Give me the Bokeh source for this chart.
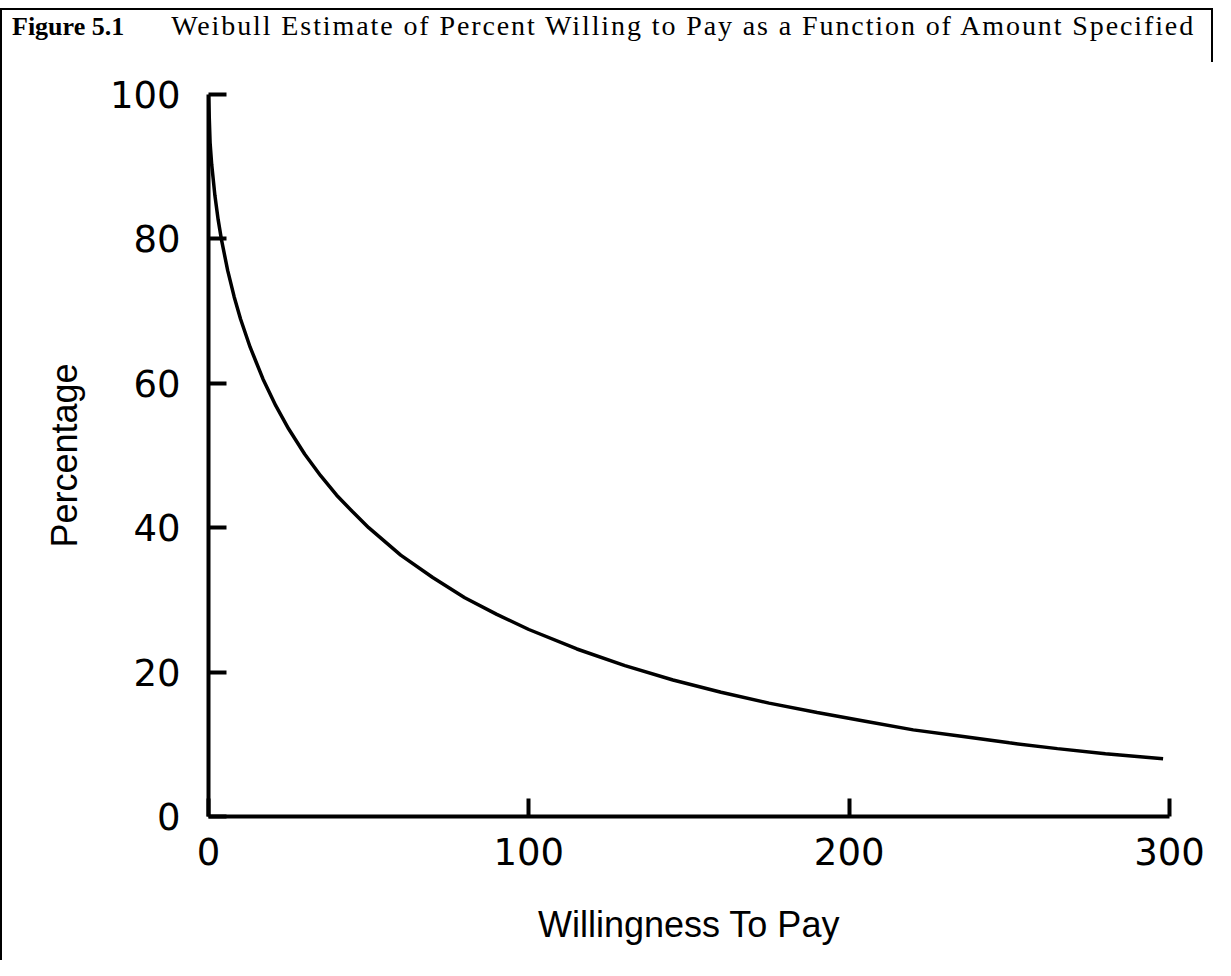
from bokeh.plotting import figure
from bokeh.layouts import column
from bokeh.models import Range1d, FixedTicker, Div
from bokeh.embed import file_html
from bokeh.resources import INLINE

# ---- texts ----
title_fig = "Figure 5.1"
title_text = "Weibull Estimate of Percent Willing to Pay as a Function of Amount Specified"
x_label = "Willingness To Pay"
y_label = "Percentage"

# ---- ticks ----
x_ticks = [0, 100, 200, 300]
y_ticks = [0, 20, 40, 60, 80, 100]

# ---- data ----
wtp = [0, 0.5, 1, 2, 3, 4, 6, 8, 10, 13, 17, 21, 25, 30, 35, 40, 45, 50, 60, 70,
       80, 90, 100, 115, 130, 145, 160, 175, 190, 205, 220, 235, 250, 265, 280, 298]
pct = [100, 93.3, 90.3, 86.0, 82.7, 80.0, 75.6, 72.0, 68.9, 65.0, 60.6, 56.9, 53.7,
       50.2, 47.2, 44.5, 42.2, 40.0, 36.2, 33.1, 30.3, 28.0, 25.9, 23.2, 20.9, 18.9,
       17.2, 15.7, 14.4, 13.2, 12.0, 11.1, 10.2, 9.4, 8.7, 8.0]

# ---- title strip (real text, mixed bold / regular) ----
title_html = (
    '<div style="margin:8px 0 0 0; width:1213px; height:54px; box-sizing:border-box; '
    'border-top:2px solid black; border-left:2px solid black; border-right:2px solid black; '
    'white-space:nowrap; padding-top:3px; padding-left:10px; '
    'font-size:26px; line-height:26px; color:black;">'
    '<span style="font-family:\'Liberation Serif\',serif; font-weight:bold; font-size:26px;">'
    + title_fig + '</span>'
    '<span style="font-family:\'Liberation Serif\',serif; font-size:28px; letter-spacing:1.9px; '
    'margin-left:47px;">' + title_text + '</span></div>'
)
t = Div(text=title_html, width=1213, height=62,
        styles={"margin": "0", "padding": "0", "overflow": "visible"})

# ---- main chart ----
p = figure(width=1213, height=898, output_backend="svg", toolbar_location=None,
           x_range=Range1d(0, 300), y_range=Range1d(0, 100),
           min_border_left=206, min_border_right=46,
           min_border_top=32, min_border_bottom=144)
p.outline_line_color = None
p.grid.visible = False
p.background_fill_color = "white"
p.border_fill_color = "white"
p.styles = {"border-left": "2px solid black"}

p.xaxis.ticker = FixedTicker(ticks=x_ticks)
p.yaxis.ticker = FixedTicker(ticks=y_ticks)
p.xaxis.axis_label = x_label
p.yaxis.axis_label = y_label

for ax in (p.xaxis[0], p.yaxis[0]):
    ax.axis_line_width = 4
    ax.axis_line_color = "black"
    ax.major_tick_line_width = 4
    ax.major_tick_line_color = "black"
    ax.major_tick_in = 18
    ax.major_tick_out = 0
    ax.minor_tick_line_color = None
    ax.major_label_text_font = "DejaVu Sans"
    ax.major_label_text_font_size = "37px"
    ax.major_label_text_color = "black"
    ax.axis_label_text_font = "Liberation Sans"
    ax.axis_label_text_font_size = "36px"
    ax.axis_label_text_font_style = "normal"
    ax.axis_label_text_color = "black"

p.yaxis.major_label_standoff = 28
p.xaxis.major_label_standoff = 21
p.xaxis.axis_label_standoff = 36
p.yaxis.axis_label_standoff = 22

p.line(wtp, pct, line_width=3.5, line_color="black")

layout = column(t, p, spacing=0)
open("out.html", "w").write(file_html(layout, INLINE))
